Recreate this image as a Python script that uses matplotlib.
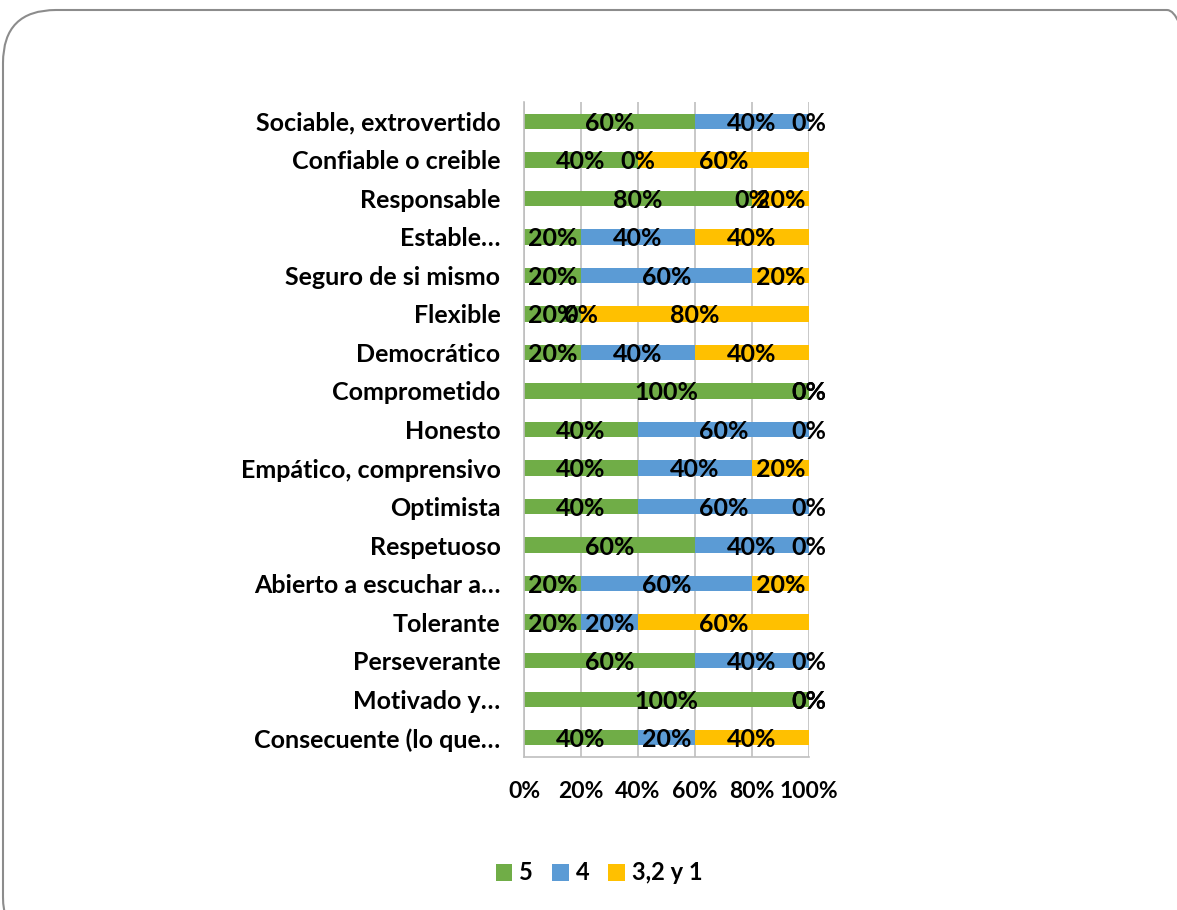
import matplotlib
matplotlib.use("Agg")
import matplotlib.pyplot as plt
from matplotlib.patches import FancyBboxPatch
import numpy as np

plt.rcParams['font.family'] = ['Lato', 'DejaVu Sans']
plt.rcParams['font.weight'] = 'bold'

categories = [
    "Sociable, extrovertido",
    "Confiable o creible",
    "Responsable",
    "Estable…",
    "Seguro de si mismo",
    "Flexible",
    "Democrático",
    "Comprometido",
    "Honesto",
    "Empático, comprensivo",
    "Optimista",
    "Respetuoso",
    "Abierto a escuchar a…",
    "Tolerante",
    "Perseverante",
    "Motivado y…",
    "Consecuente (lo que…",
]
series_names = ["5", "4", "3,2 y 1"]
score_5 = [60, 40, 80, 20, 20, 20, 20, 100, 40, 40, 40, 60, 20, 20, 60, 100, 40]
score_4 = [40, 0, 0, 40, 60, 0, 40, 0, 60, 40, 60, 40, 60, 20, 40, 0, 20]
score_321 = [0, 60, 20, 40, 20, 80, 40, 0, 0, 20, 0, 0, 20, 60, 0, 0, 40]
x_ticks = [0, 20, 40, 60, 80, 100]

colors = ["#70AD47", "#5B9BD5", "#FFC000"]

W, H = 1177, 910
fig = plt.figure(figsize=(W / 100, H / 100), dpi=100)

# rounded frame around the chart area (bottom-right corner runs off the page)
frame = FancyBboxPatch((3 / W, -40 / H), (W + 40) / W, (H + 40 - 10) / H,
                       boxstyle="round,pad=0,rounding_size=0.045",
                       transform=fig.transFigure, facecolor="none",
                       edgecolor="#8C8C8C", linewidth=1.5, zorder=-1,
                       mutation_aspect=W / H)
fig.patches.append(frame)

ax = fig.add_axes([524 / W, 1 - 757 / H, (809 - 524) / W, (757 - 102) / H])
ax.set_facecolor("none")

n = len(categories)
y = np.arange(n)
series = [score_5, score_4, score_321]
left = np.zeros(n)
for vals, col, name in zip(series, colors, series_names):
    vals = np.array(vals, dtype=float)
    ax.barh(y, vals, left=left, height=0.4, color=col, label=name, zorder=2)
    for yi, l, v in zip(y, left, vals):
        ax.text(l + v / 2, yi + 0.05, f"{int(v)}%", ha="center", va="center",
                fontsize=18, fontweight="bold", color="black", zorder=4)
    left += vals

ax.set_xlim(0, 100)
ax.set_ylim(n - 0.5, -0.5)
ax.set_yticks(y)
ax.set_yticklabels(categories, fontsize=18, fontweight="bold")
ax.set_xticks(x_ticks)
ax.set_xticklabels([f"{t}%" for t in x_ticks], fontsize=16.5, fontweight="bold")
ax.tick_params(axis="y", length=0, pad=17)
ax.tick_params(axis="x", length=0, pad=17)
ax.xaxis.grid(True, color="#BFBFBF", linewidth=1.2, zorder=1)
ax.set_axisbelow(True)
for s in ["top", "right"]:
    ax.spines[s].set_visible(False)
for s in ["left", "bottom"]:
    ax.spines[s].set_color("#BFBFBF")
    ax.spines[s].set_linewidth(1.2)

handles, labels = ax.get_legend_handles_labels()
fig.legend(handles, labels, loc="center", bbox_to_anchor=(599 / W, 1 - 873 / H),
           ncol=3, frameon=False, handlelength=0.7, handleheight=0.7,
           handletextpad=0.3, columnspacing=0.8,
           prop={"weight": "bold", "size": 17})

fig.savefig("out.png", dpi=100)
